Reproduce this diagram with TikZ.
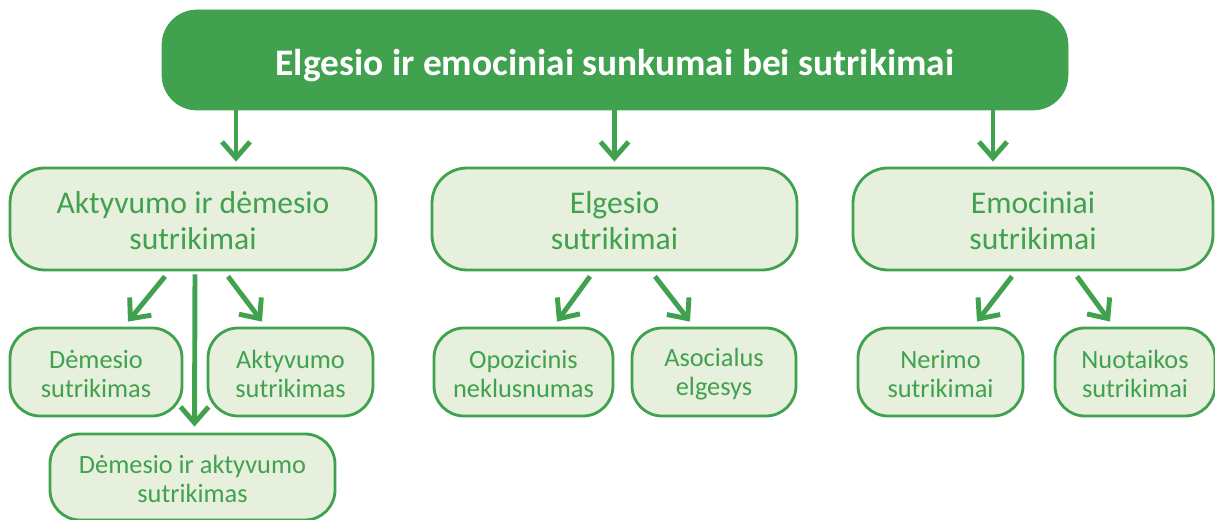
\documentclass[tikz,border=0pt]{standalone}
\usepackage{fontspec}
\setmainfont{Carlito}
\usetikzlibrary{arrows.meta,positioning}
\definecolor{gd}{RGB}{64,161,78}
\definecolor{gl}{RGB}{230,240,220}
\newcommand{\midtop}{\rule{0pt}{5.0mm}}
\newcommand{\lowtop}{\rule{0pt}{4.5mm}}
\tikzset{%
  topbox/.style = { rectangle, rounded corners=7mm, fill=gd, draw=gd, text=white, font=\fontsize{21.3}{25}\selectfont\bfseries, execute at begin node={\rule{0pt}{7.4mm}} },
  midbox/.style = { rectangle, rounded corners=7mm, fill=gl, draw=gd, line width=1.6pt, text=gd, align=center, minimum height=2.04cm, font=\fontsize{18}{20.5}\selectfont },
  lowbox/.style = { rectangle, rounded corners=6mm, fill=gl, draw=gd, line width=1.6pt, text=gd, align=center, minimum height=1.76cm, font=\fontsize{15}{16.5}\selectfont },
  arr/.style = { draw=gd, line width=2.8pt, -{Straight Barb[length=3.2mm,width=5.6mm]} }
}

\begin{document}
\begin{tikzpicture}

  \useasboundingbox (0,0) rectangle (24.3,-10.4);

  % Title
  \node[topbox, minimum width=18.12cm, minimum height=2cm] (title) at (12.3,-1.2) {Elgesio ir emociniai sunkumai bei sutrikimai};

  % ROW 1
  \node[midbox, minimum width=7.32cm] (act) at (3.86,-4.38) {\midtop Aktyvumo ir dėmesio\\sutrikimai};
  \node[midbox, minimum width=7.3cm] (elg) at (12.29,-4.38) {\midtop Elgesio\\sutrikimai};
  \node[midbox, minimum width=7.2cm] (emo) at (20.66,-4.38) {\midtop Emociniai\\sutrikimai};

  % ROW 2
  \node[lowbox, minimum width=3.44cm] (dem) at (1.92,-7.44) {\lowtop Dėmesio\\sutrikimas};
  \node[lowbox, minimum width=3.3cm] (akt) at (5.81,-7.44) {\lowtop Aktyvumo\\sutrikimas};
  \node[lowbox, minimum width=5.7cm, minimum height=1.72cm] (mix) at (3.85,-9.54) {\lowtop Dėmesio ir aktyvumo\\sutrikimas};
  \node[lowbox, minimum width=3.58cm] (opo) at (10.47,-7.44) {\lowtop Opozicinis\\neklusnumas};
  \node[lowbox, minimum width=3.28cm] (aso) at (14.28,-7.44) {\lowtop Asocialus\\elgesys};
  \node[lowbox, minimum width=3.3cm] (ner) at (18.81,-7.44) {\lowtop Nerimo\\sutrikimai};
  \node[lowbox, minimum width=3.2cm] (nuo) at (22.7,-7.44) {\lowtop Nuotaikos\\sutrikimai};

  % Arrows from title
  \draw[arr] ([xshift=8.6mm]act.north |- title.south) -- ([xshift=8.6mm,yshift=1mm]act.north);
  \draw[arr] (elg.north |- title.south) -- ([yshift=1mm]elg.north);
  \draw[arr] ([xshift=-8mm]emo.north |- title.south) -- ([xshift=-8mm,yshift=1mm]emo.north);

  % Arrows to row 2
  \draw[arr] ([xshift=-5.6mm,yshift=-1mm]act.south) -- ([xshift=6.4mm,yshift=1mm]dem.north);
  \draw[arr] ([xshift=7mm,yshift=-1mm]act.south) -- ([xshift=-5.7mm,yshift=1mm]akt.north);
  \draw[arr] ([xshift=0.4mm,yshift=-0.6mm]act.south) -- ([xshift=0.4mm,yshift=1.2mm]mix.north);
  \draw[arr] ([xshift=-4.9mm,yshift=-1mm]elg.south) -- ([xshift=6.7mm,yshift=1mm]opo.north);
  \draw[arr] ([xshift=8.1mm,yshift=-1mm]elg.south) -- ([xshift=-4.8mm,yshift=1mm]aso.north);
  \draw[arr] ([xshift=-4.2mm,yshift=-1mm]emo.south) -- ([xshift=7.3mm,yshift=1mm]ner.north);
  \draw[arr] ([xshift=8.8mm,yshift=-1mm]emo.south) -- ([xshift=-5mm,yshift=1mm]nuo.north);

\end{tikzpicture}
\end{document}
